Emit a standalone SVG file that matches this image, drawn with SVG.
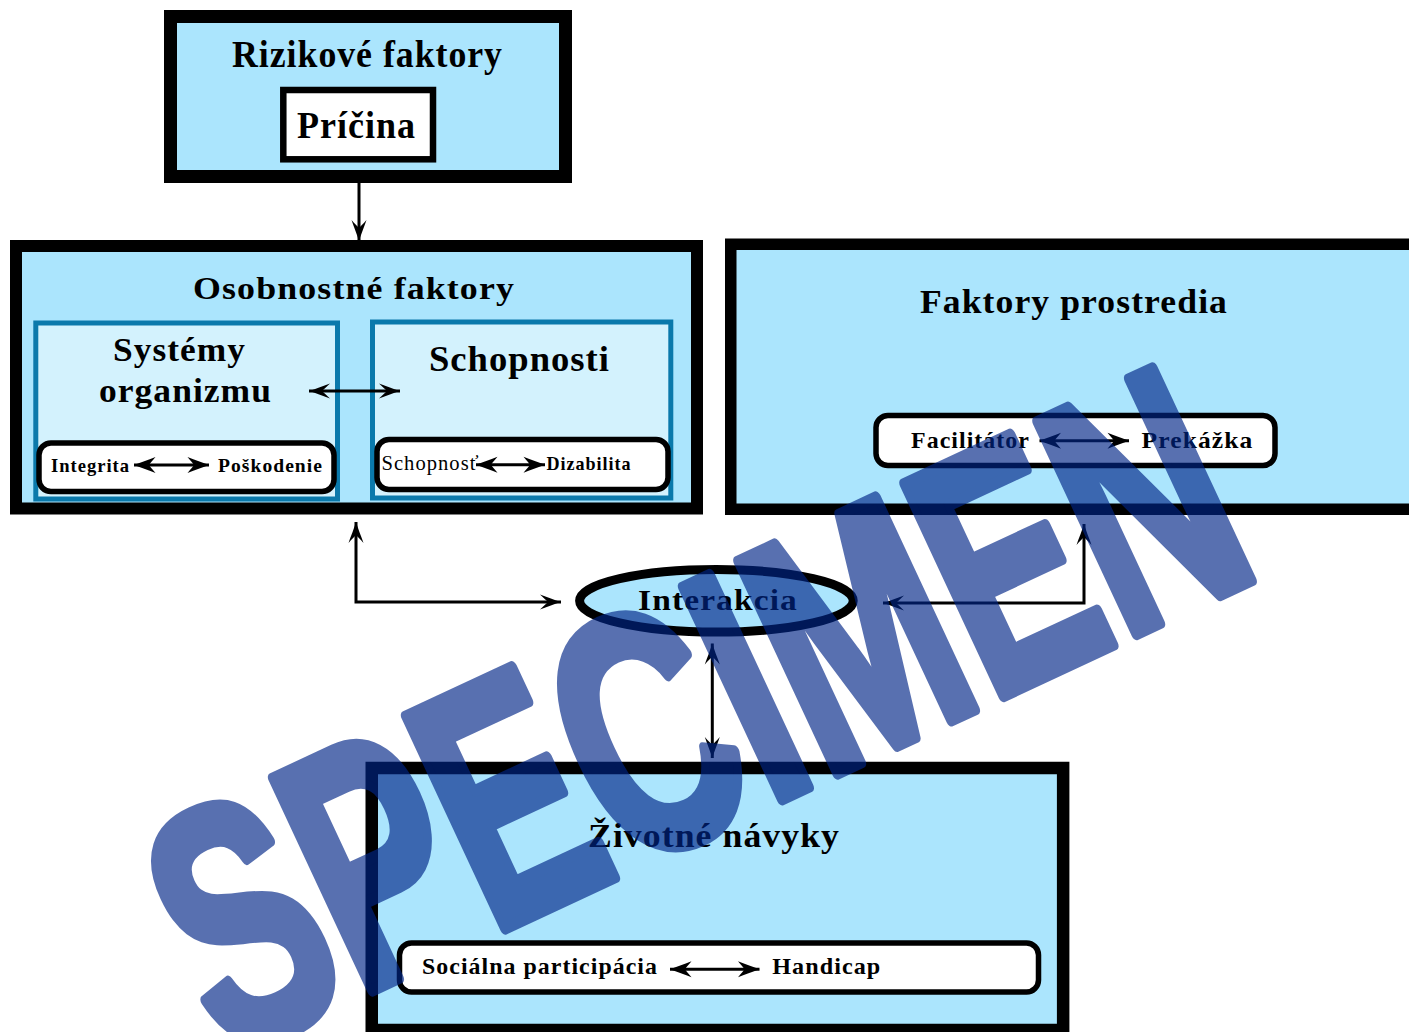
<svg xmlns="http://www.w3.org/2000/svg" width="1409" height="1032" viewBox="0 0 1409 1032">
<style>
.frame{fill:#abe5fd;stroke:#000;stroke-width:12}
.sub{fill:#d3f2fd;stroke:#0a79ab;stroke-width:5}
.pill{fill:#fff;stroke:#000;stroke-width:5.5}
.t{font-family:"Liberation Serif","Times New Roman",serif;font-weight:bold;fill:#000;letter-spacing:1px}
.r{font-weight:normal}
.conn{fill:none;stroke:#000;stroke-width:3}
.dbl{fill:none;stroke:#000;stroke-width:3}
</style>
<defs>
<marker id="ah" markerUnits="userSpaceOnUse" markerWidth="24" markerHeight="18" refX="22" refY="9" orient="auto-start-reverse">
<path d="M22,9 C16,7.2 8,4 1,1.5 C5,5 7,7.2 9,9 C7,10.8 5,13 1,16.5 C8,14 16,10.8 22,9 Z" fill="#000"/>
</marker>
<marker id="ahs" markerUnits="userSpaceOnUse" markerWidth="24" markerHeight="18" refX="22" refY="9" orient="auto-start-reverse">
<path d="M22,9 C15,6.5 7,3.5 0.5,1 C3.5,4.5 5.5,6.8 7,9 C5.5,11.2 3.5,13.5 0.5,17 C7,14.5 15,11.5 22,9 Z" fill="#000"/>
</marker>
</defs>

<g id="rizikove">
<rect class="frame" x="170.5" y="16.5" width="395" height="160" style="stroke-width:13"/>
<text class="t" x="232" y="67" font-size="37" textLength="271" lengthAdjust="spacingAndGlyphs">Rizikové faktory</text>
<rect x="283.3" y="90" width="149.7" height="69.3" fill="#fff" stroke="#000" stroke-width="6.5"/>
<text class="t" x="297" y="138" font-size="37" textLength="119" lengthAdjust="spacingAndGlyphs">Príčina</text>
</g>

<g id="osobnostne">
<rect class="frame" x="16" y="246" width="681" height="262.5"/>
<text class="t" x="193" y="299" font-size="32" textLength="322" lengthAdjust="spacingAndGlyphs">Osobnostné faktory</text>
</g>

<g id="systemy">
<rect class="sub" x="35.8" y="323" width="301.7" height="176"/>
<text class="t" x="113" y="361" font-size="34" textLength="133" lengthAdjust="spacingAndGlyphs">Systémy</text>
<text class="t" x="99" y="402" font-size="34" textLength="173" lengthAdjust="spacingAndGlyphs">organizmu</text>
<rect class="pill" x="39" y="443" width="295" height="48.5" rx="12"/>
<text class="t" x="51" y="472" font-size="19" textLength="79" lengthAdjust="spacingAndGlyphs">Integrita</text>
<text class="t" x="218" y="472" font-size="19" textLength="105" lengthAdjust="spacingAndGlyphs">Poškodenie</text>
<line class="dbl" x1="134" y1="465" x2="209" y2="465" marker-start="url(#ahs)" marker-end="url(#ahs)"/>
</g>

<g id="schopnosti">
<rect class="sub" x="372.5" y="322" width="298.3" height="176"/>
<text class="t" x="429" y="371" font-size="36" textLength="181" lengthAdjust="spacingAndGlyphs">Schopnosti</text>
<rect class="pill" x="377" y="439.5" width="291" height="50" rx="12"/>
<text class="t r" x="381.5" y="470" font-size="20" textLength="98" lengthAdjust="spacingAndGlyphs">Schopnosť</text>
<text class="t" x="546.5" y="470" font-size="19" textLength="85" lengthAdjust="spacingAndGlyphs">Dizabilita</text>
<line class="dbl" x1="476" y1="464.7" x2="545" y2="464.7" marker-start="url(#ahs)" marker-end="url(#ahs)"/>
</g>

<g id="prostredie">
<rect class="frame" x="730.75" y="244.25" width="720" height="265" style="stroke-width:11.5"/>
<text class="t" x="920" y="313" font-size="33" textLength="308" lengthAdjust="spacingAndGlyphs">Faktory prostredia</text>
<rect class="pill" x="876" y="415.5" width="399" height="50" rx="12"/>
<text class="t" x="911" y="448.3" font-size="23" textLength="119" lengthAdjust="spacingAndGlyphs">Facilitátor</text>
<text class="t" x="1141.5" y="448.3" font-size="23" textLength="112" lengthAdjust="spacingAndGlyphs">Prekážka</text>
<line class="dbl" x1="1039.5" y1="440.7" x2="1129" y2="440.7" marker-start="url(#ahs)" marker-end="url(#ahs)"/>
</g>

<g id="interakcia">
<ellipse cx="716.4" cy="600.8" rx="136.8" ry="31.3" fill="#abe5fd" stroke="#000" stroke-width="9"/>
<text class="t" x="638" y="610" font-size="30" textLength="160" lengthAdjust="spacingAndGlyphs">Interakcia</text>
</g>

<g id="zivotne">
<rect class="frame" x="371.75" y="768" width="691.4" height="262" style="stroke-width:12.5"/>
<text class="t" x="588" y="847" font-size="34" textLength="252" lengthAdjust="spacingAndGlyphs">Životné návyky</text>
<rect class="pill" x="399.5" y="943" width="639" height="49" rx="12"/>
<text class="t" x="422" y="974" font-size="23" textLength="236" lengthAdjust="spacingAndGlyphs">Sociálna participácia</text>
<text class="t" x="772.3" y="974" font-size="23" textLength="109" lengthAdjust="spacingAndGlyphs">Handicap</text>
<line class="dbl" x1="670" y1="969.3" x2="759.5" y2="969.3" marker-start="url(#ahs)" marker-end="url(#ahs)"/>
</g>

<g id="connectors">
<line class="conn" x1="359" y1="182" x2="359" y2="241" marker-end="url(#ah)"/>
<line class="conn" x1="309" y1="391" x2="400" y2="391" marker-start="url(#ah)" marker-end="url(#ah)"/>
<path class="conn" d="M356,522 L356,602 L561,602" marker-start="url(#ah)" marker-end="url(#ah)"/>
<path class="conn" d="M1084,524 L1084,603 L883,603" marker-start="url(#ah)" marker-end="url(#ah)"/>
<line class="conn" x1="712.3" y1="643.5" x2="712.3" y2="758" marker-start="url(#ah)" marker-end="url(#ah)"/>
</g>

<g id="watermark" opacity="0.65">
<text x="0" y="0" transform="translate(224.7 1059.2) rotate(-25)" font-family="'Liberation Sans', Arial, sans-serif" font-weight="bold" font-size="340" fill="#002587" stroke="#002587" stroke-width="12" stroke-linejoin="round" textLength="1149" lengthAdjust="spacingAndGlyphs">SPECIMEN</text>
</g>
</svg>
